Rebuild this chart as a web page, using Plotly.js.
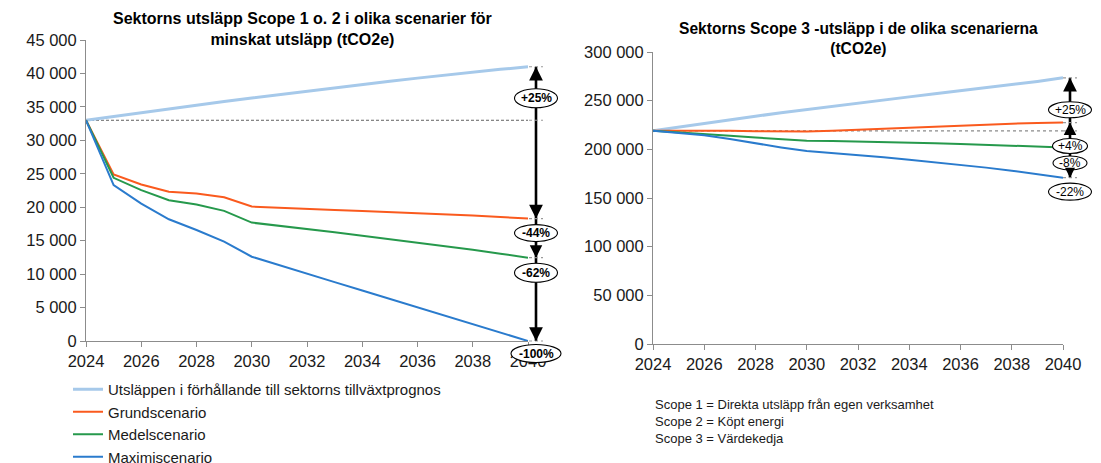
<!DOCTYPE html>
<html><head><meta charset="utf-8">
<script src="https://cdn.plot.ly/plotly-3.0.1.min.js"></script>
<style>html,body{margin:0;padding:0;background:#fff}#chart{width:1101px;height:463px}</style>
</head><body><div id="chart"></div>
<script>
// ---------- DATA ----------
const years = [2024,2025,2026,2027,2028,2029,2030,2031,2032,2033,2034,2035,2036,2037,2038,2039,2040];
const seriesNames = ['Utsläppen i förhållande till sektorns tillväxtprognos','Grundscenario','Medelscenario','Maximiscenario'];
// Scope 1 o. 2 (tCO2e)
const tillvaxt12 = [33000,33580,34150,34710,35260,35800,36330,36850,37360,37860,38350,38830,39300,39760,40210,40610,41000];
const grund12    = [33000,24900,23400,22300,22050,21500,20100,19900,19750,19600,19450,19300,19150,18950,18750,18550,18300];
const medel12    = [33000,24400,22550,21050,20400,19450,17700,17250,16750,16250,15750,15250,14750,14200,13650,13050,12450];
const maxi12     = [33000,23300,20550,18200,16600,14850,12600,11300,10050,8800,7550,6300,5050,3800,2550,1300,0];
// Scope 3 (tCO2e)
const tillvaxt3 = [219000,222900,226700,230400,234000,237500,240900,244200,247500,250700,253900,257000,260100,263200,266400,269800,273500];
const grund3    = [219000,219200,219300,219000,218700,218400,218200,219200,220300,221300,222300,223300,224300,225300,226300,227000,227500];
const medel3    = [219000,217500,216000,214000,212200,210500,208800,208500,208100,207600,207000,206300,205600,204800,203900,202900,201900];
const maxi3     = [219000,216800,214500,210500,206000,202000,198200,196300,194200,191800,189300,186800,184100,181200,178000,174600,170900];
// change labels 2040 vs 2024
const pctLabels12 = ['+25%','-44%','-62%','-100%'];
const pctLabels3  = ['+25%','+4%','-8%','-22%'];
const titleLeft  = '<b>Sektorns utsläpp Scope 1 o. 2 i olika scenarier för<br>minskat utsläpp (tCO2e)</b>';
const titleRight = '<b>Sektorns Scope 3 -utsläpp i de olika scenarierna<br>(tCO2e)</b>';
const scopeNote  = 'Scope 1 = Direkta utsläpp från egen verksamhet<br>Scope 2 = Köpt energi<br>Scope 3 = Värdekedja';

// ---------- LAYOUT / STYLE ----------
const W = 1101, H = 463;
const FONT = '"Liberation Sans", Arial, sans-serif';
const colors = ['#a6c9ea','#fa5a1e','#26994c','#2a7bcd'];
const widths = [3, 2, 2, 2];
const last = years.length - 1;
const yr0 = years[0], yr1 = years[last];

const boxL = {l:86, r:528, t:40, b:341, yMax:45000, dtick:5000};
const boxR = {l:653, r:1063, t:52, b:344, yMax:300000, dtick:50000};

const axBase = {showline:true, linecolor:'#8c8c8c', linewidth:1, ticks:'outside', ticklen:5,
  tickcolor:'#8c8c8c', tickwidth:1, showgrid:false, zeroline:false, fixedrange:true,
  tickfont:{family:FONT, size:16.5, color:'#1a1a1a'}};

function xAxis(box, anchor){
  return Object.assign({}, axBase, {domain:[box.l/W, box.r/W], range:[yr0, yr1], anchor:anchor,
    tickmode:'linear', tick0:yr0, dtick:2});
}
function yAxis(box, anchor){
  return Object.assign({}, axBase, {domain:[1-box.b/H, 1-box.t/H], range:[0, box.yMax], anchor:anchor,
    tickmode:'linear', tick0:0, dtick:box.dtick, tickformat:','});
}
// invisible wider overlay axes (same scale) for the arrow column next to 2040
function ovX(box, rightPx, anchor){
  const pxPerYr = (box.r - box.l)/(yr1 - yr0);
  return {domain:[box.l/W, rightPx/W], range:[yr0, yr0 + (rightPx - box.l)/pxPerYr], visible:false, anchor:anchor, fixedrange:true};
}
function ovY(box, topPx, botPx, anchor){
  const perPx = box.yMax/(box.b - box.t);
  return {domain:[1-botPx/H, 1-topPx/H], range:[-(botPx-box.b)*perPx, box.yMax + (box.t-topPx)*perPx], visible:false, anchor:anchor, fixedrange:true};
}

const traces = [];
function addChart(xa, ya, series, showLegend, baseStyle){
  traces.push({x:[yr0, yr1], y:[series[0][0], series[0][0]], xaxis:xa, yaxis:ya, mode:'lines',
    line:baseStyle, showlegend:false, hoverinfo:'skip'});
  series.forEach((s, i) => traces.push({x:years, y:s, xaxis:xa, yaxis:ya, mode:'lines', name:seriesNames[i],
    line:{color:colors[i], width:widths[i]}, showlegend:showLegend, hoverinfo:'skip'}));
}
addChart('x','y',[tillvaxt12, grund12, medel12, maxi12], true, {color:'#3a3a3a', width:0.8, dash:'3px,2px'});
addChart('x2','y2',[tillvaxt3, grund3, medel3, maxi3], false, {color:'#8a8a8a', width:1.3, dash:'dot'});
traces.push({x:[], y:[], xaxis:'x3', yaxis:'y3', showlegend:false, hoverinfo:'skip'});
traces.push({x:[], y:[], xaxis:'x4', yaxis:'y4', showlegend:false, hoverinfo:'skip'});

const shapes = [], annotations = [];
function arrowColumn(xr, yr, shift, tips, base, labels, labShift, sizes, heads, font){
  const top = Math.max(...tips), bot = Math.min(...tips);
  shapes.push({type:'line', xref:xr, yref:yr, xsizemode:'pixel', xanchor:yr1, x0:shift, x1:shift,
    y0:top, y1:bot, line:{color:'#000', width:2.6}, layer:'above'});
  tips.concat([base]).forEach(t => shapes.push({type:'line', xref:xr, yref:yr, xsizemode:'pixel', xanchor:yr1,
    x0:shift-7, x1:shift+7, y0:t, y1:t, line:{color:'#9a9a9a', width:1.2, dash:'dot'}, layer:'above'}));
  tips.forEach((t, i) => {
    const [w, h] = sizes[i];
    shapes.push({type:'circle', xref:xr, yref:yr, xsizemode:'pixel', xanchor:yr1, x0:shift-w/2, x1:shift+w/2,
      ysizemode:'pixel', yanchor:t, y0:labShift[i]-h/2, y1:labShift[i]+h/2,
      fillcolor:'#ffffff', line:{color:'#000', width:1.1}, layer:'above'});
    annotations.push({xref:xr, yref:yr, x:yr1, y:t, xshift:shift, yshift:labShift[i], text:labels[i],
      showarrow:false, xanchor:'center', yanchor:'middle', font:font});
  });
  tips.forEach((t, i) => {
    if(!heads[i]) return;
    const [dir, len, size] = heads[i];
    annotations.push({xref:xr, yref:yr, x:yr1, y:t, xshift:shift, text:'', showarrow:true,
      arrowhead:2, arrowsize:size, arrowwidth:2.5, arrowcolor:'#000', axref:'pixel', ayref:'pixel',
      ax:0, ay: dir === 'up' ? len : -len, standoff:0});
  });
}
arrowColumn('x3','y3', 8,
  [tillvaxt12[last], grund12[last], medel12[last], maxi12[last]], tillvaxt12[0], pctLabels12,
  [-31.5, -14.5, -15, -12.5], [[43,19],[43,17],[43,19],[50,18]],
  [['up',12,1.1],['down',12,1.1],['down',10,1],['down',12,1.1]],
  {family:FONT, size:12, color:'#000', weight:'bold'});
arrowColumn('x4','y4', 7,
  [tillvaxt3[last], grund3[last], medel3[last], maxi3[last]], tillvaxt3[0], pctLabels3,
  [-32, -23.5, -15.5, -14], [[43,16],[35,15],[34,14],[43,17]],
  [['up',12,1.1],['up',9,1],null,['down',6,0.8]],
  {family:FONT, size:12, color:'#000'});

annotations.push({xref:'paper', yref:'paper', x:(boxL.l+boxL.r)/2/W - 5/W, y:1-28.7/H, text:titleLeft, showarrow:false,
  xanchor:'center', yanchor:'middle', align:'center', font:{family:FONT, size:16, color:'#000'}});
annotations.push({xref:'paper', yref:'paper', x:(boxR.l+boxR.r)/2/W, y:1-39/H, text:titleRight, showarrow:false,
  xanchor:'center', yanchor:'middle', align:'center', font:{family:FONT, size:15.6, color:'#000'}});
annotations.push({xref:'paper', yref:'paper', x:boxR.l/W, y:1-421/H, text:scopeNote, showarrow:false,
  xanchor:'left', yanchor:'middle', align:'left', font:{family:FONT, size:13, color:'#1a1a1a'}});

const layout = {
  width:W, height:H, margin:{l:0, r:0, t:0, b:0, autoexpand:false},
  paper_bgcolor:'#ffffff', plot_bgcolor:'rgba(0,0,0,0)', separators:', ',
  font:{family:FONT, color:'#1a1a1a'},
  xaxis:xAxis(boxL,'y'), yaxis:yAxis(boxL,'x'),
  xaxis2:xAxis(boxR,'y2'), yaxis2:yAxis(boxR,'x2'),
  xaxis3:ovX(boxL, 585, 'y3'), yaxis3:ovY(boxL, 30, 372, 'x3'),
  xaxis4:ovX(boxR, 1100, 'y4'), yaxis4:ovY(boxR, 40, 372, 'x4'),
  showlegend:true,
  legend:{x:68/W, y:1-373/H, xanchor:'left', yanchor:'top', orientation:'v', traceorder:'normal',
    font:{family:FONT, size:15, color:'#1a1a1a'}, bgcolor:'rgba(0,0,0,0)', itemwidth:30},
  shapes:shapes, annotations:annotations
};
Plotly.newPlot('chart', traces, layout, {staticPlot:true, displayModeBar:false});
</script></body></html>
